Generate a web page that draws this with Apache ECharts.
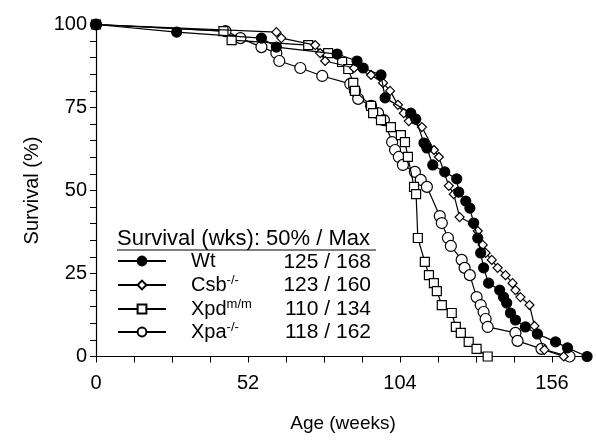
<!DOCTYPE html>
<html>
<head>
<meta charset="utf-8">
<script src="https://cdn.jsdelivr.net/npm/echarts@6/dist/echarts.min.js"></script>
<style>
  html, body { margin: 0; padding: 0; background: #fff; }
  #chart { width: 596px; height: 440px; }
</style>
</head>
<body>
<div id="chart"></div>
<script>
// Kaplan-Meier survival, age in weeks / survival in %
var wtAge  = [0, 27.6, 56.6, 61.7, 82.5, 89.3, 91.4, 97.5, 98.9, 107.7, 109.4, 112.2, 113.2, 115.2, 119.3, 123.4, 124.1, 126.5, 127.9, 129.2, 130.6, 131.6, 132.6, 134.3, 138.1, 139.4, 140.5, 141.8, 143.5, 146.9, 151.0, 157.2, 161.3, 168];
var wtSurv = [100, 97.7, 95.9, 93.2, 91.1, 89.0, 86.9, 84.8, 77.9, 73.3, 71.5, 64.3, 62.8, 57.7, 55.6, 53.5, 49.5, 46.8, 44.7, 40.2, 35.7, 31.2, 26.7, 22.1, 20.0, 17.9, 16.1, 13.1, 11.0, 8.9, 6.8, 4.4, 2.6, 0];

var csbAge  = [0, 61.7, 63.4, 75.0, 76.7, 78.4, 88.3, 94.1, 98.2, 100.6, 103.3, 105.3, 107.0, 111.5, 115.6, 117.3, 120.7, 122.4, 124.4, 128.9, 130.6, 132.3, 133.3, 135.4, 137.4, 140.1, 142.5, 143.5, 145.2, 148.3, 150.0, 153.4, 160];
var csbSurv = [100, 97.7, 95.9, 93.8, 91.4, 89.0, 86.9, 84.8, 82.4, 80.0, 75.8, 73.3, 70.9, 69.1, 62.2, 60.1, 51.4, 48.9, 42.0, 39.9, 37.8, 33.6, 31.2, 29.1, 26.7, 24.5, 22.1, 20.0, 17.9, 15.5, 9.2, 2.0, 0];

var xpdAge  = [0, 43.6, 46.4, 72.6, 79.4, 84.2, 86.3, 88.0, 88.6, 94.1, 94.8, 97.5, 100.9, 104.3, 105.7, 106.7, 108.8, 109.5, 110.1, 112.5, 113.9, 115.6, 116.6, 118.3, 121.7, 123.1, 124.8, 127.5, 130.2, 134];
var xpdSurv = [100, 98.0, 95.3, 93.8, 91.4, 88.7, 86.6, 82.4, 80.0, 75.5, 73.3, 71.2, 69.1, 66.7, 64.6, 60.1, 51.1, 48.9, 35.7, 28.5, 24.5, 22.1, 19.7, 15.5, 13.1, 8.9, 7.1, 4.4, 2.3, 0];

var xpaAge  = [0, 44.3, 49.4, 56.6, 61.7, 62.7, 69.9, 77.4, 87.0, 88.6, 89.7, 94.1, 96.5, 98.5, 101.3, 102.3, 103.6, 105.0, 109.1, 111.1, 113.2, 117.6, 118.3, 120.4, 121.4, 125.1, 126.1, 127.9, 130.2, 131.6, 132.6, 133.3, 134.0, 143.5, 144.2, 152.4, 162];
var xpaSurv = [100, 98.0, 95.9, 93.2, 91.4, 89.0, 86.9, 84.5, 82.1, 80.0, 77.6, 75.5, 73.3, 71.2, 64.6, 62.2, 60.1, 57.7, 55.6, 53.2, 51.1, 42.3, 40.2, 35.7, 33.3, 29.1, 26.7, 24.5, 17.9, 15.5, 13.4, 11.3, 8.9, 7.1, 4.7, 2.3, 0];

var groupNames = ['Wt', 'Csb-/-', 'Xpdm/m', 'Xpa-/-'];
var groupBase  = ['Wt', 'Csb', 'Xpd', 'Xpa'];
var groupSup   = ['', '-/-', 'm/m', '-/-'];
var median50   = [125, 123, 110, 118];
var maxAge     = [168, 160, 134, 162];

var xTicks = [0, 52, 104, 156];
var yTicks = [0, 25, 50, 75, 100];

var FONT = '"Liberation Sans", Arial, sans-serif';

function zip(a, b) {
    return a.map(function (v, i) { return [v, b[i]]; });
}

var symbols = ['circle', 'diamond', 'rect', 'circle'];
var symSizes = [10, 9, 9, 11];
var fills = ['#000', '#fff', '#fff', '#fff'];
var ages = [wtAge, csbAge, xpdAge, xpaAge];
var survs = [wtSurv, csbSurv, xpdSurv, xpaSurv];

var series = [];
// Wt drawn last so the filled dots sit on top
[3, 2, 1, 0].forEach(function (i) {
    series.push({
        name: groupNames[i],
        type: 'line',
        data: zip(ages[i], survs[i]),
        symbol: symbols[i],
        symbolSize: symSizes[i],
        showAllSymbol: true,
        clip: false,
        lineStyle: { color: '#000', width: 1.2 },
        itemStyle: { color: fills[i], borderColor: '#000', borderWidth: 1.2 },
        emphasis: { disabled: true },
        z: 2 + (3 - i)
    });
});

var rowY = [262, 285, 309, 332];
var legends = groupNames.map(function (n, i) {
    return {
        data: [n],
        left: 117,
        top: rowY[i] - 11,
        padding: 0,
        itemWidth: 48,
        itemHeight: 11,
        selectedMode: false,
        formatter: function (name) {
            var k = groupNames.indexOf(name);
            return '{b|' + groupBase[k] + '}' + (groupSup[k] ? '{s|' + groupSup[k] + '}' : '');
        },
        textStyle: {
            padding: [0, 0, 0, 20],
            rich: {
                b: { fontFamily: FONT, fontSize: 20, lineHeight: 22, color: '#000' },
                s: { fontFamily: FONT, fontSize: 13, lineHeight: 13, verticalAlign: 'top', color: '#000' }
            }
        }
    };
});

var graphics = [
    {
        type: 'text', left: 117, top: 228,
        style: { text: 'Survival (wks): 50% / Max', font: '22px ' + FONT, fill: '#000' }
    },
    {
        type: 'line',
        shape: { x1: 117, y1: 250, x2: 376, y2: 250 },
        style: { stroke: '#000', lineWidth: 1.2 }
    }
];
median50.forEach(function (m, i) {
    graphics.push({
        type: 'text', x: 371, y: rowY[i],
        style: {
            text: m + ' / ' + maxAge[i],
            font: '21px ' + FONT, fill: '#000',
            align: 'right', verticalAlign: 'middle'
        }
    });
});

var option = {
    animation: false,
    backgroundColor: '#fff',
    grid: { left: 96, right: 6, top: 24.5, bottom: 83.5 },
    xAxis: {
        type: 'value',
        min: 0,
        max: 169,
        interval: 13,
        name: 'Age (weeks)',
        nameLocation: 'middle',
        nameGap: 58,
        nameTextStyle: { fontFamily: FONT, fontSize: 19, color: '#000' },
        axisLine: { lineStyle: { color: '#000', width: 1.2 } },
        axisTick: { length: 6, lineStyle: { color: '#000' } },
        axisLabel: {
            margin: 17,
            fontFamily: FONT, fontSize: 20, color: '#000',
            showMaxLabel: false,
            formatter: function (v) { return xTicks.indexOf(v) >= 0 ? String(v) : ''; }
        },
        splitLine: { show: false }
    },
    yAxis: {
        type: 'value',
        min: 0,
        max: 100,
        interval: 5,
        name: 'Survival (%)',
        nameLocation: 'middle',
        nameGap: 54,
        nameTextStyle: { fontFamily: FONT, fontSize: 20, color: '#000' },
        axisLine: { show: true, lineStyle: { color: '#000', width: 1.2 } },
        axisTick: { show: true, length: 6, lineStyle: { color: '#000' } },
        axisLabel: {
            margin: 9, fontFamily: FONT, fontSize: 20, color: '#000',
            formatter: function (v) { return yTicks.indexOf(v) >= 0 ? String(v) : ''; }
        },
        splitLine: { show: false }
    },
    legend: legends,
    graphic: graphics,
    series: series
};

var myChart = echarts.init(document.getElementById('chart'));
myChart.setOption(option);
</script>
</body>
</html>
